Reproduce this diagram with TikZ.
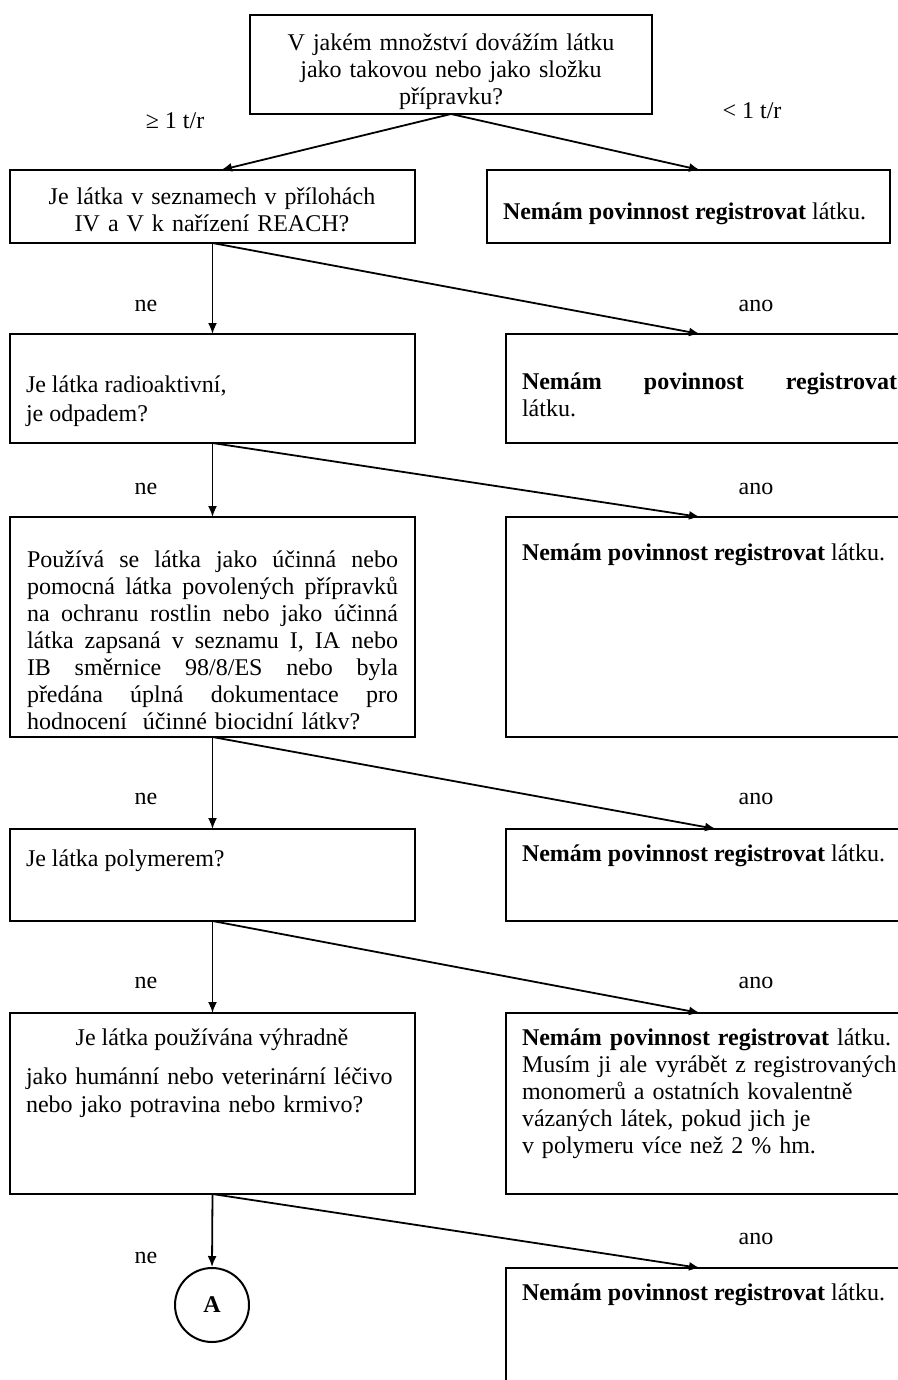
\documentclass[tikz,border=0pt]{standalone}
\usepackage{fontspec}
\setmainfont{Liberation Serif}
\usetikzlibrary{arrows.meta,calc,fit}

% a line whose interword spaces are stretched to the given width
% (\spaceskip is reset because TikZ's align=left fixes it)
\newcommand\fullline[2]{\makebox[#1][s]{\spaceskip=0pt\xspaceskip=0pt\relax #2}}

\tikzset{
  box/.style={draw, line width=1pt, inner sep=0pt, outer sep=0pt},
  % texts are placed by the baseline of their first line
  txt/.style={inner sep=0pt, outer sep=0pt, anchor=base west, align=left,
              font=\fontsize{12}{13.5}\selectfont},
  ctxt/.style={inner sep=0pt, outer sep=0pt, anchor=base, align=center,
              font=\fontsize{12}{13.5}\selectfont},
  lbl/.style={inner sep=0pt, anchor=base, font=\fontsize{12}{13.5}\selectfont},
  arr/.style={-{Latex[length=5.5pt,width=4.5pt]}, line width=0.9pt},
  conn/.style={draw, circle, line width=1pt, minimum size=37pt, inner sep=0pt,
              font=\bfseries\fontsize{12}{13.5}\selectfont},
}

\begin{document}
\begin{tikzpicture}[x=0.5pt,y=-0.5pt]
\useasboundingbox (0,0) rectangle (898,1380);

% ---------- boxes ----------
\node[box, fit={(250,15) (652,114)}] (top) {};
\node[box, fit={(10,170) (415,243)}] (q1) {};
\node[box, fit={(487,170) (890,243)}] (r1) {};
\node[box, fit={(10,334) (415,443)}] (q2) {};
\node[box, fit={(506,334) (930,443)}] (r2) {};
\node[box, fit={(10,517) (415,737)}] (q3) {};
\node[box, fit={(506,517) (930,737)}] (r3) {};
\node[box, fit={(10,829) (415,921)}] (q4) {};
\node[box, fit={(506,829) (930,921)}] (r4) {};
\node[box, fit={(10,1013) (415,1194)}] (q5) {};
\node[box, fit={(506,1013) (930,1194)}] (r5) {};
\node[box, fit={(506,1268) (930,1420)}] (r6) {};
\node[conn] (a) at (212,1305) {A};

% ---------- texts ----------
\node[ctxt, text width=200pt] (ttop) at (451,51)
  {V jakém množství dovážím látku\\ jako takovou nebo jako složku\\ přípravku?};
\node[ctxt, text width=200pt] (tq1) at (212,205)
  {Je látka v seznamech v přílohách\\ IV a V k nařízení REACH?};
\node[txt] (tr1) at (503,220) {\textbf{Nemám povinnost registrovat} látku.};

\node[txt] (tq2a) at (26,392) {Je látka radioaktivní,};
\node[txt] (tq2b) at (26,421) {je odpadem?};
\node[txt, text width=188pt] (tr2) at (522,389)
  {\fullline{187.5pt}{\bfseries Nemám povinnost registrovat}\\ látku.};

\node[txt, text width=186pt] (tq3) at (27,567)
  {\fullline{185.5pt}{Používá se látka jako účinná nebo}\\
   \fullline{185.5pt}{pomocná látka povolených přípravků}\\
   \fullline{185.5pt}{na ochranu rostlin nebo jako účinná}\\
   \fullline{185.5pt}{látka zapsaná v seznamu I, IA nebo}\\
   \fullline{185.5pt}{IB směrnice 98/8/ES nebo byla}\\
   \fullline{185.5pt}{předána úplná dokumentace pro}\\
   hodnocení\ \ účinné biocidní látkv?};
\node[txt] (tr3) at (522,560) {\textbf{Nemám povinnost registrovat} látku.};

\node[txt] (tq4) at (26,866) {Je látka polymerem?};
\node[txt] (tr4) at (522,861) {\textbf{Nemám povinnost registrovat} látku.};

\node[ctxt] (tq5a) at (212,1045) {Je látka používána výhradně};
\node[txt, text width=200pt, font=\fontsize{12}{14}\selectfont] (tq5b) at (26,1084)
  {jako humánní nebo veterinární léčivo\\ nebo jako potravina nebo krmivo?};
\node[txt, text width=200pt] (tr5) at (522,1045)
  {\textbf{Nemám povinnost registrovat} látku.\\
   Musím ji ale vyrábět z registrovaných\\
   monomerů a ostatních kovalentně\\
   vázaných látek, pokud jich je\\
   v polymeru více než 2~\% hm.};
\node[txt] (tr6) at (522,1300) {\textbf{Nemám povinnost registrovat} látku.};

% ---------- branch labels ----------
\node[lbl] (lge) at (175,129) {≥ 1 t/r};
\node[lbl] (llt) at (752,119) {< 1 t/r};
\node[lbl] (ne1) at (146,311) {ne};
\node[lbl] (an1) at (756,311) {ano};
\node[lbl] (ne2) at (146,494) {ne};
\node[lbl] (an2) at (756,494) {ano};
\node[lbl] (ne3) at (146,804) {ne};
\node[lbl] (an3) at (756,804) {ano};
\node[lbl] (ne4) at (146,988) {ne};
\node[lbl] (an4) at (756,988) {ano};
\node[lbl] (ne5) at (146,1263) {ne};
\node[lbl] (an5) at (756,1244) {ano};

% ---------- connectors ----------
\draw[arr] (top.south) -- ($(q1.north west)+(211,0)$);
\draw[arr] (top.south) -- ($(r1.north west)+(213,0)$);

\draw[arr] (q1.south) -- (q2.north);
\draw[arr] (q1.south) -- ($(r2.north west)+(194,0)$);

\draw[arr] (q2.south) -- (q3.north);
\draw[arr] (q2.south) -- ($(r3.north west)+(194,0)$);

\draw[arr] (q3.south) -- (q4.north);
\draw[arr] (q3.south) -- ($(r4.north west)+(210,0)$);

\draw[arr] (q4.south) -- (q5.north);
\draw[arr] (q4.south) -- ($(r5.north west)+(194,0)$);

\draw[arr] (q5.south) -- (a.north);
\draw[arr] (q5.south) -- ($(r6.north west)+(194,0)$);
\end{tikzpicture}
\end{document}
